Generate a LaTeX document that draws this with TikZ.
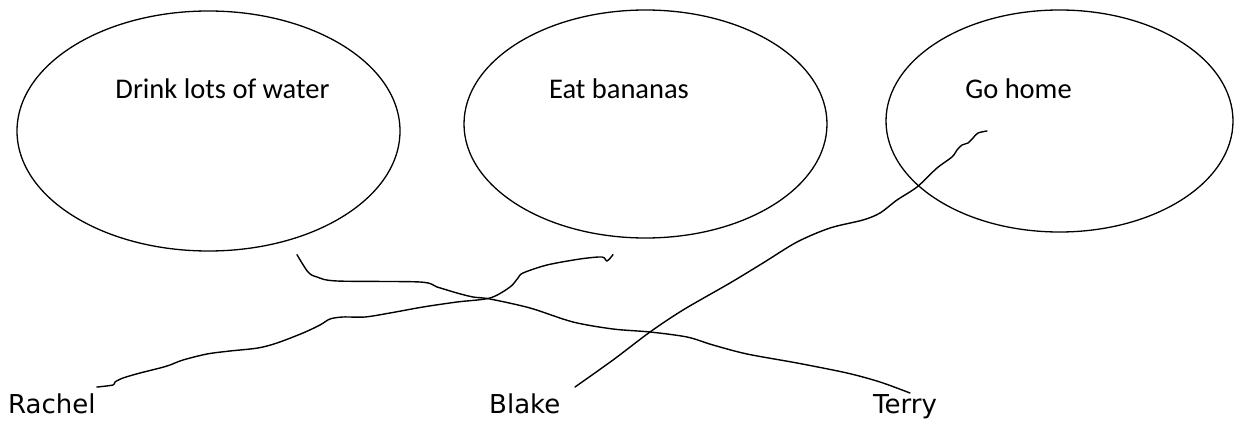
\documentclass[tikz,border=0pt]{standalone}
\usepackage{fontspec}
\setmainfont{Carlito}
\newfontfamily\namefont{DejaVu Sans}
\usetikzlibrary{shapes.geometric}
\tikzset{
    bubble/.style={
        draw, ellipse, line width=1.3pt, inner sep=0pt
    },
    idea/.style={
        font=\fontsize{28.5}{34}\selectfont, anchor=base
    },
    person/.style={
        font=\namefont\fontsize{26}{32}\selectfont, anchor=base west, inner sep=0pt
    },
    scribble/.style={
        line width=1.4pt, line cap=round, line join=round
    }
}

\begin{document}
\begin{tikzpicture}[x=1pt, y=-1pt]

\useasboundingbox (0,0) rectangle (1234,422);

% the three ideas
\node[bubble, minimum width=383pt, minimum height=240pt] (water) at (208.5,131) {};
\node[bubble, minimum width=363pt, minimum height=228pt] (bananas) at (645.5,124) {};
\node[bubble, minimum width=347pt, minimum height=222pt] (home) at (1059.5,121) {};

\node[idea] (waterlab) at (222.5,99) {Drink lots of water};
\node[idea] (bananaslab) at (619,99) {Eat bananas};
\node[idea] (homelab) at (1018.5,99) {Go home};

% the people
\node[person] (rachel) at (8,413) {Rachel};
\node[person] (blake) at (489,413) {Blake};
\node[person] (terry) at (873,413) {Terry};

% free ends of the scribbles
\coordinate (water-tip) at ([shift={(88.5,3)}]water.south);
\coordinate (bananas-tip) at ([shift={(-32.5,16)}]bananas.south);
\coordinate (home-tip) at ([shift={(-72.5,10)}]home.center);
\coordinate (rachel-tip) at ([shift={(1,-6)}]rachel.north east);
\coordinate (blake-tip) at (575,387);
\coordinate (terry-tip) at (910,393);

% Rachel -- Eat bananas
\draw[scribble] plot[smooth, tension=0.5] coordinates {
  (rachel-tip) (113,385) (115,382) (123,378) (140,373) (160,368) (170,365)
  (183,360) (207,354) (230,351) (258,348) (277,343) (303,333) (320,325)
  (330,319) (343,317) (365,317) (390,313) (423,307) (457,302) (490,298)
  (510,287) (518,278) (523,273) (547,265) (580,259) (602,257) (607,261)
  (bananas-tip)};

% Drink lots of water -- Terry
\draw[scribble] plot[smooth, tension=0.5] coordinates {
  (water-tip) (308,272) (317,277) (337,281) (420,282) (437,287) (457,293)
  (473,297) (490,299) (530,308) (573,322) (613,329) (650,332) (687,337)
  (713,345) (747,354) (797,363) (847,373) (880,382) (terry-tip)};

% Go home -- Blake
\draw[scribble] plot[smooth, tension=0.5] coordinates {
  (home-tip) (978,133) (973,138) (968,143) (962,145) (957,150) (952,157)
  (937,168) (917,187) (897,200) (880,213) (863,220) (830,228) (797,242)
  (763,263) (730,283) (683,310) (650,332) (613,360) (blake-tip)};

\end{tikzpicture}
\end{document}
